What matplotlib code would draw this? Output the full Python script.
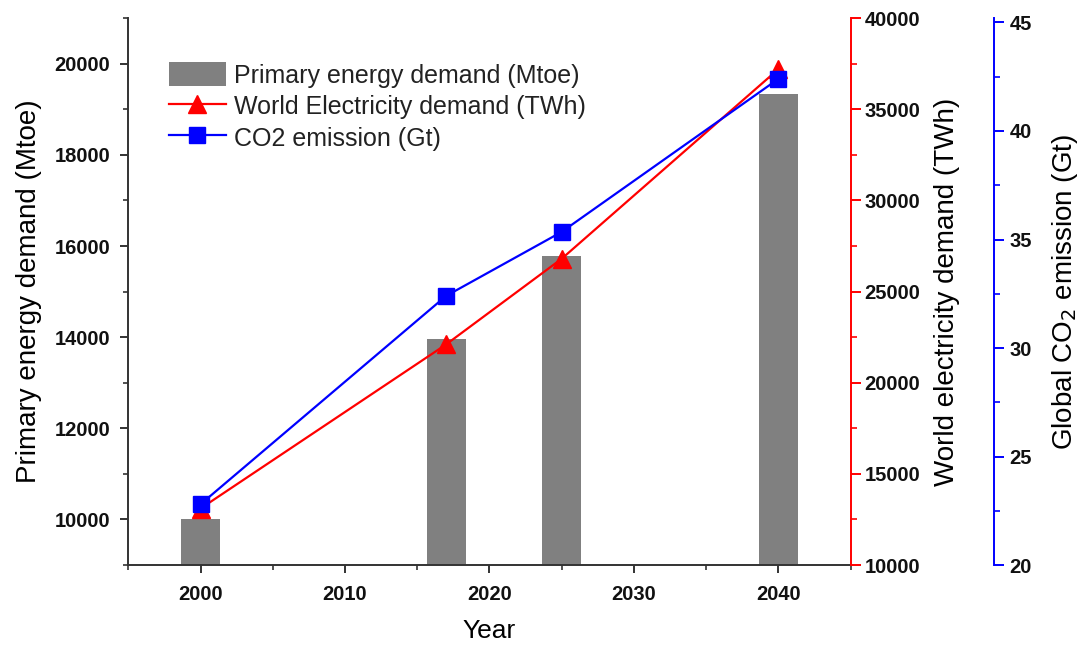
import matplotlib
matplotlib.use("Agg")
import matplotlib.pyplot as plt
from matplotlib.ticker import MultipleLocator

plt.rcParams['font.family'] = ['Liberation Sans', 'DejaVu Sans']

# data
years = [2000, 2017, 2025, 2040]
primary_energy = [10000, 13950, 15780, 19330]      # Mtoe
electricity = [13100, 22100, 26800, 37200]          # TWh
co2 = [22.8, 32.4, 35.35, 42.4]                     # Gt

TICK_FS = 14.5
LABEL_FS = 20

fig = plt.figure(figsize=(10.78, 6.48), dpi=100)
ax = fig.add_axes([0.119, 0.128, 0.670, 0.844])

bars = ax.bar(years, primary_energy, width=2.7, color='#808080',
              label='Primary energy demand (Mtoe)', zorder=2)
ax.set_xlim(1995, 2045)
ax.set_ylim(9000, 21000)
ax.xaxis.set_major_locator(MultipleLocator(10))
ax.xaxis.set_minor_locator(MultipleLocator(5))
ax.yaxis.set_major_locator(MultipleLocator(2000))
ax.yaxis.set_minor_locator(MultipleLocator(1000))
ax.set_xlabel('Year', fontsize=19, labelpad=11)
ax.set_ylabel('Primary energy demand (Mtoe)', fontsize=LABEL_FS, labelpad=9)
ax.spines['top'].set_visible(False)
ax.spines['right'].set_visible(False)
for s in ('left', 'bottom'):
    ax.spines[s].set_color('#333333')
    ax.spines[s].set_linewidth(1.4)
ax.tick_params(which='major', direction='out', length=6, width=1.4,
               labelsize=TICK_FS, colors='#333333', labelcolor='#111111')
ax.tick_params(which='minor', direction='out', length=3.5, width=1.2, colors='#333333')
ax.tick_params(axis='y', pad=7)
ax.tick_params(axis='x', pad=8)
for lbl in ax.get_xticklabels() + ax.get_yticklabels():
    lbl.set_fontweight('bold')

# electricity demand, red axis
ax2 = ax.twinx()
ln_e, = ax2.plot(years, electricity, color='red', lw=1.6, marker='^',
                 markersize=13, label='World Electricity demand (TWh)')
ax2.set_ylim(10000, 40000)
ax2.yaxis.set_major_locator(MultipleLocator(5000))
ax2.yaxis.set_minor_locator(MultipleLocator(2500))
ax2.set_ylabel('World electricity demand (TWh)', fontsize=LABEL_FS, labelpad=10)
for s in ('top', 'left', 'bottom'):
    ax2.spines[s].set_visible(False)
ax2.spines['right'].set_color('red')
ax2.spines['right'].set_linewidth(1.4)
ax2.tick_params(which='major', direction='out', length=7, width=1.4, color='red',
                labelsize=TICK_FS, labelcolor='#111111', pad=3)
ax2.tick_params(which='minor', direction='out', length=4, width=1.2, color='red')
for lbl in ax2.get_yticklabels():
    lbl.set_fontweight('bold')

# CO2 emission, blue axis
ax3 = ax.twinx()
ax3.spines['right'].set_position(('axes', 1.199))
ln_c, = ax3.plot(years, co2, color='blue', lw=1.6, marker='s',
                 markersize=11, label='CO2 emission (Gt)')
ax3.set_ylim(20, 45.2)
ax3.yaxis.set_major_locator(MultipleLocator(5))
ax3.yaxis.set_minor_locator(MultipleLocator(2.5))
ax3.set_ylabel('Global CO$_2$ emission (Gt)', fontsize=LABEL_FS, labelpad=13)
for s in ('top', 'left', 'bottom'):
    ax3.spines[s].set_visible(False)
ax3.spines['right'].set_color('blue')
ax3.spines['right'].set_linewidth(1.4)
ax3.tick_params(which='major', direction='out', length=7, width=1.4, color='blue',
                labelsize=TICK_FS, labelcolor='#111111', pad=4)
ax3.tick_params(which='minor', direction='out', length=4, width=1.2, color='blue')
for lbl in ax3.get_yticklabels():
    lbl.set_fontweight('bold')

leg = ax3.legend([bars, ln_e, ln_c],
                 [bars.get_label(), ln_e.get_label(), ln_c.get_label()],
                 loc='upper left', bbox_to_anchor=(0.042, 0.938), frameon=False,
                 fontsize=18, handlelength=2.3, handleheight=1.1,
                 labelspacing=0.24, handletextpad=0.3, borderaxespad=0)
for t in leg.get_texts():
    t.set_color('#222222')

fig.savefig('out.png', dpi=100, facecolor='white')
